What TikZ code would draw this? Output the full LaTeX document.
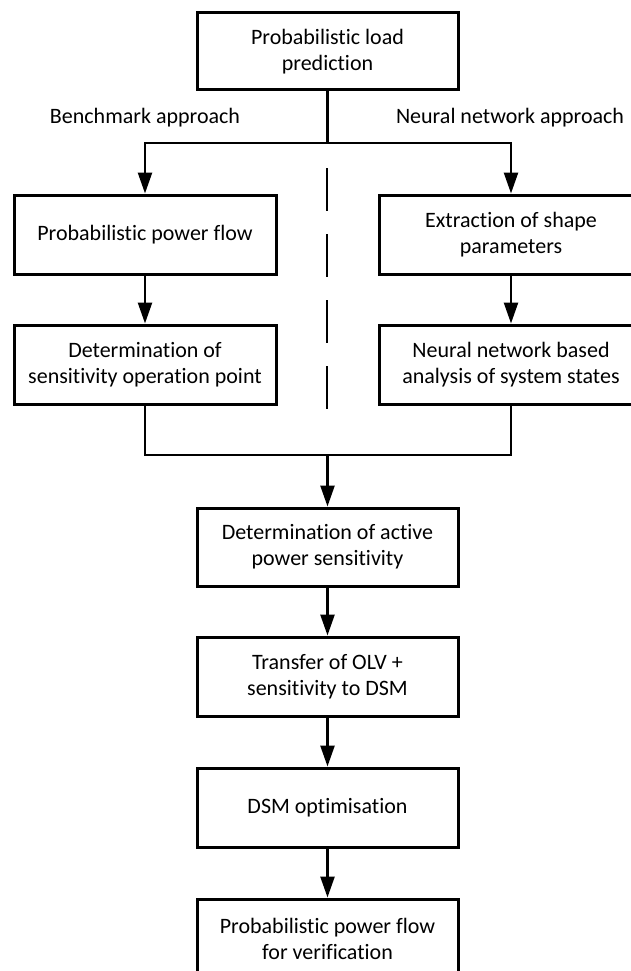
\documentclass[tikz,border=0pt]{standalone}
\usepackage{fontspec}
\setmainfont{Carlito}[Ligatures={NoCommon}, RawFeature={-liga;-clig}]
\usetikzlibrary{arrows.meta}
\tikzset{
  box/.style={draw, line width=3pt, rectangle, inner sep=0pt, align=center,
    minimum height=79pt, font=\fontsize{22}{26}\selectfont},
  conn/.style={line width=2.5pt},
  arr/.style={conn, -{Triangle[length=21pt,width=14pt]}},
  lbl/.style={anchor=base, inner sep=0pt, font=\fontsize{22}{26}\selectfont},
  divider/.style={line width=2.2pt, dash pattern=on 43pt off 23pt}
}
\begin{document}
\begin{tikzpicture}[x=1pt,y=-1pt]
\useasboundingbox (0,0) rectangle (630,971);
\node[box, minimum width=261pt, minimum height=77pt] (top) at (327.5,51.5) {Probabilistic load\\prediction};
\node[lbl] (lblL) at (145,124) {Benchmark approach};
\node[lbl] (lblR) at (510,124) {Neural network approach};
\node[box, minimum width=262pt] (l1) at (145,234.5) {Probabilistic power flow};
\node[box, minimum width=264pt] (r1) at (511,234.5) {Extraction of shape\\parameters};
\node[box, minimum width=262pt] (l2) at (145,364.5) {Determination of\\sensitivity operation point};
\node[box, minimum width=264pt] (r2) at (511,364.5) {Neural network based\\analysis of system states};
\node[box, minimum width=261pt, minimum height=78pt] (act) at (327.5,547) {Determination of active\\power sensitivity};
\node[box, minimum width=261pt] (trf) at (327.5,676.5) {Transfer of OLV +\\sensitivity to DSM};
\node[box, minimum width=261pt] (dsm) at (327.5,807.5) {DSM optimisation};
\node[box, minimum width=261pt] (ver) at (327.5,938.5) {Probabilistic power flow\\for verification};
\coordinate (split) at (327.5,143);
\coordinate (join) at (327.5,455);
\coordinate (dA) at (327,168);
\coordinate (dB) at (327,409);
\draw[conn] (top.south) -- (split);
\draw[arr] (split) -| (l1.north);
\draw[arr] (split) -| (r1.north);
\draw[arr] (l1.south) -- (l2.north);
\draw[arr] (r1.south) -- (r2.north);
\draw[conn] (l2.south) |- (join);
\draw[conn] (r2.south) |- (join);
\draw[arr] (join) -- (act.north);
\draw[arr] (act.south) -- (trf.north);
\draw[arr] (trf.south) -- (dsm.north);
\draw[arr] (dsm.south) -- (ver.north);
\draw[divider] (dA) -- (dB);
\end{tikzpicture}
\end{document}
